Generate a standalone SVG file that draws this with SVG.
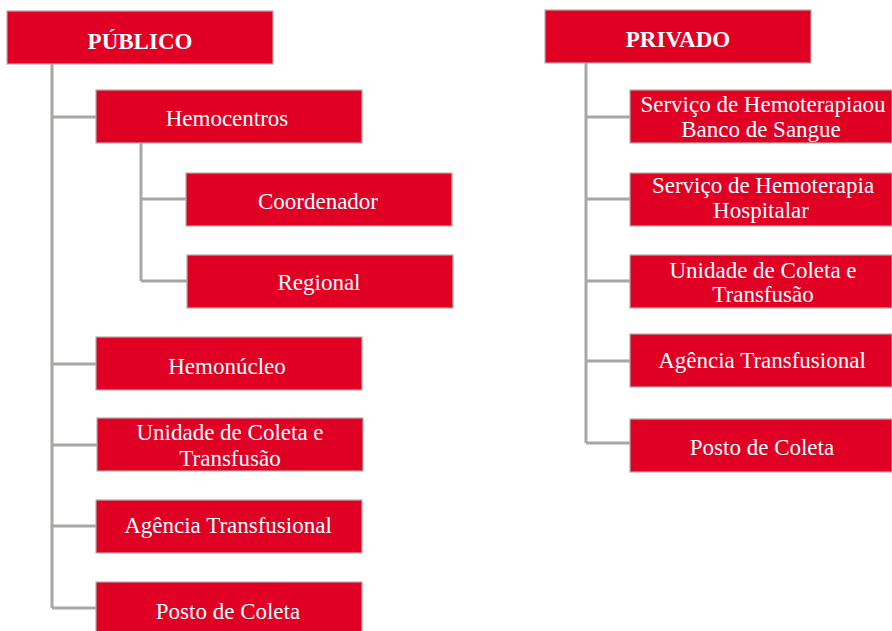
<svg xmlns="http://www.w3.org/2000/svg" width="892" height="631" viewBox="0 0 892 631">
<style>
.b{fill:#DF0024;stroke:#B3AEAA;stroke-width:1.2}
.t{font-family:"Liberation Serif","Times New Roman",serif;font-size:23px;fill:#fff;text-anchor:middle}
.h{font-weight:bold}
.c{fill:none;stroke:#A9A6A3;stroke-width:3}
</style>
<rect width="892" height="631" fill="#fff"/>
<g id="connectors">
<path class="c" d="M52 64V608M52 117H96M52 364H96M52 445H97M52 526H96M52 608H96"/>
<path class="c" d="M141 143V281M141 199H186M141 281H187"/>
<path class="c" d="M586 63V443M586 117H630M586 199H630M586 281H630M586 361H630M586 443H630"/>
</g>
<g id="publico"><rect class="b" x="7" y="11" width="266" height="53"/><text class="t h" x="140" y="49">PÚBLICO</text></g>
<g id="hemocentros"><rect class="b" x="96" y="90" width="266" height="53"/><text class="t" x="227" y="126">Hemocentros</text></g>
<g id="coordenador"><rect class="b" x="186" y="173" width="266" height="53"/><text class="t" x="318" y="209">Coordenador</text></g>
<g id="regional"><rect class="b" x="187" y="255" width="266" height="53"/><text class="t" x="319" y="290">Regional</text></g>
<g id="hemonucleo"><rect class="b" x="96" y="337" width="266" height="53"/><text class="t" x="227" y="374">Hemonúcleo</text></g>
<g id="unidade-pub"><rect class="b" x="97" y="418" width="266" height="53"/><text class="t" x="230" y="440">Unidade de Coleta e</text><text class="t" x="230" y="466">Transfusão</text></g>
<g id="agencia-pub"><rect class="b" x="96" y="500" width="266" height="53"/><text class="t" x="228" y="533">Agência Transfusional</text></g>
<g id="posto-pub"><rect class="b" x="96" y="582" width="266" height="53"/><text class="t" x="228" y="619">Posto de Coleta</text></g>
<g id="privado"><rect class="b" x="545" y="10" width="266" height="53"/><text class="t h" x="678" y="47">PRIVADO</text></g>
<g id="servico-banco"><rect class="b" x="630" y="90" width="262" height="53"/><text class="t" x="763" y="112">Serviço de Hemoterapiaou</text><text class="t" x="761" y="137">Banco de Sangue</text></g>
<g id="servico-hosp"><rect class="b" x="630" y="173" width="262" height="53"/><text class="t" x="763" y="193">Serviço de Hemoterapia</text><text class="t" x="761" y="218">Hospitalar</text></g>
<g id="unidade-priv"><rect class="b" x="630" y="255" width="262" height="53"/><text class="t" x="763" y="278">Unidade de Coleta e</text><text class="t" x="763" y="302">Transfusão</text></g>
<g id="agencia-priv"><rect class="b" x="630" y="334" width="262" height="53"/><text class="t" x="762" y="368">Agência Transfusional</text></g>
<g id="posto-priv"><rect class="b" x="630" y="419" width="262" height="53"/><text class="t" x="762" y="455">Posto de Coleta</text></g>
</svg>
